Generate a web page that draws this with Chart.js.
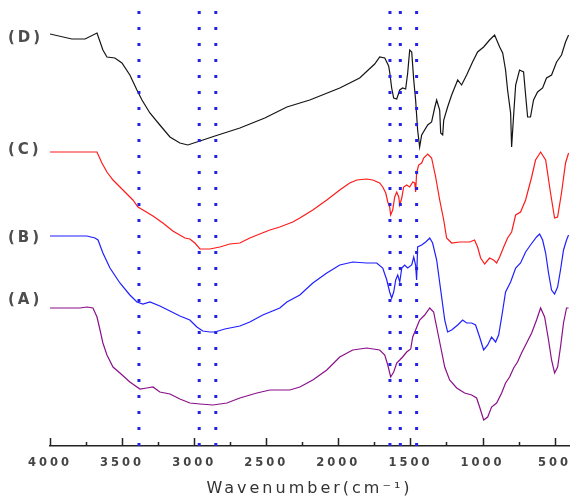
<!DOCTYPE html>
<html>
<head>
  <meta charset="UTF-8">
  <title>FTIR spectra (A)-(D)</title>
  <script src="https://cdn.jsdelivr.net/npm/chart.js"></script>
  <style>
    body { margin: 0; background: #fff; }
    #wrap { width: 577px; height: 498px; position: relative; }
  </style>
</head>
<body>
  <div id="wrap"><canvas id="ftir"></canvas></div>
  <script>
    // curve names (drawn as labels at left of each curve)
    const curveNames = ['(D)', '(C)', '(B)', '(A)'];

    // x axis tick labels (cm-1)
    const tickValues = [4000, 3500, 3000, 2500, 2000, 1500, 1000, 500];

    // wavenumbers (cm-1) and transmittance (a.u., offset per curve)
    const wnD = [4000,3848,3757,3674,3633,3605,3550,3501,3446,3397,3362,3307,3238,3168,3099,3044,2960,2856,2683,2510,2357,2198,1990,1852,1748,1713,1678,1651,1644,1630,1616,1595,1574,1554,1533,1519,1505,1491,1477,1464,1450,1436,1422,1380,1353,1332,1318,1297,1290,1276,1269,1242,1214,1172,1145,1110,1069,1034,992,951,916,881,860,840,826,805,798,784,770,743,715,701,687,667,646,618,583,556,521,486,452,424,403];
    const tD = [409,404,404,410,393,386,385,380,368,353,343,330,318,306,300,298,302,307,315,325,336,343,355,365,379,386,385,377,371,355,345,344,353,355,354,370,393,391,363,343,313,296,308,318,321,335,343,333,310,308,323,336,348,363,358,368,381,391,396,403,408,396,390,373,353,330,296,328,358,373,371,348,326,326,343,351,355,365,368,381,388,401,408];

    const wnC = [4000,3674,3640,3605,3563,3494,3425,3390,3355,3286,3217,3148,3064,3030,2995,2960,2891,2822,2753,2683,2614,2545,2475,2406,2316,2267,2177,2080,1990,1921,1872,1803,1761,1713,1692,1671,1657,1644,1637,1623,1609,1595,1581,1574,1560,1547,1526,1505,1484,1470,1464,1457,1443,1422,1408,1380,1353,1325,1297,1269,1249,1214,1159,1089,1055,1034,1013,985,951,923,902,881,853,826,798,770,736,701,659,632,597,562,528,500,479,452,424,403];
    const tC = [291,291,280,271,263,253,243,236,233,227,220,212,205,204,200,194,194,196,199,200,205,209,213,216,221,225,233,243,253,260,263,264,263,260,256,250,241,236,228,233,246,251,246,238,245,256,258,256,261,260,251,270,278,280,285,289,285,266,243,223,205,200,201,201,203,196,185,179,185,183,180,186,196,205,211,228,231,243,266,283,291,283,250,225,226,250,280,290];

    const wnB = [4000,3744,3688,3667,3633,3584,3515,3446,3397,3355,3307,3238,3168,3099,3030,2981,2940,2891,2856,2787,2683,2614,2524,2406,2357,2267,2177,2080,1990,1900,1803,1734,1692,1664,1644,1630,1616,1602,1588,1574,1560,1540,1519,1491,1477,1464,1457,1450,1422,1394,1366,1346,1318,1290,1262,1242,1214,1172,1138,1110,1075,1048,1020,992,964,937,909,888,867,840,805,770,736,701,667,625,604,583,562,542,521,500,479,459,438,417,403];
    const tB = [207,207,205,203,190,175,160,148,141,139,141,137,132,127,123,116,112,111,111,114,117,121,128,135,141,148,160,170,178,181,180,180,175,163,151,145,151,163,168,161,175,178,175,178,186,178,163,196,198,201,205,200,183,153,123,111,113,118,123,120,120,118,106,93,98,106,101,108,126,151,161,175,180,191,198,206,209,203,190,170,153,149,156,173,193,203,208];

    const wnA = [4000,3792,3744,3702,3674,3653,3633,3605,3563,3515,3446,3376,3328,3286,3238,3168,3099,3030,2960,2870,2773,2683,2565,2475,2337,2267,2177,2080,1990,1900,1803,1713,1678,1657,1637,1616,1595,1574,1554,1526,1498,1484,1464,1436,1401,1366,1339,1318,1290,1262,1228,1179,1124,1075,1041,1020,992,964,937,902,867,840,812,784,757,729,694,659,625,597,569,542,521,500,479,459,438,417,403];
    const tA = [135,135,136,135,126,113,100,88,76,70,61,54,55,56,51,49,44,40,39,38,40,45,50,53,53,56,63,73,86,93,95,93,88,78,66,71,80,83,86,91,94,106,113,123,128,135,131,116,96,76,63,55,50,48,45,36,23,26,36,40,50,60,66,75,81,90,100,110,123,135,126,103,83,70,76,96,120,135,135];

    // dotted marker lines (cm-1)
    const markerWn = [3383, 2965, 2850, 1642, 1570, 1457];

    const pts = (wn, t) => wn.map((w, i) => ({ x: w, y: t[i] }));

    const curves = [
      { name: curveNames[0], data: pts(wnD, tD), color: '#151515' },
      { name: curveNames[1], data: pts(wnC, tC), color: '#ff1a1a' },
      { name: curveNames[2], data: pts(wnB, tB), color: '#1f1fff' },
      { name: curveNames[3], data: pts(wnA, tA), color: '#8a108a' }
    ];

    const datasets = curves.map(c => ({
      label: c.name,
      data: c.data,
      borderColor: c.color,
      borderWidth: 1.2,
      pointRadius: 0,
      tension: 0,
      order: 2
    }));

    markerWn.forEach(w => {
      datasets.push({
        label: 'mark ' + w,
        data: [{ x: w, y: -3 }, { x: w, y: 443 }],
        borderColor: 'rgb(35,35,225)',
        borderWidth: 3,
        borderDash: [3, 13],
        borderCapStyle: 'butt',
        pointRadius: 0,
        order: 1
      });
    });

    // spacing of text + inward ticks + curve labels
    const decor = {
      id: 'decor',
      beforeDraw(chart) {
        chart.ctx.letterSpacing = '3px';
      },
      afterDraw(chart) {
        const ctx = chart.ctx;
        const xs = chart.scales.x, ys = chart.scales.y;
        const bottom = chart.chartArea.bottom;
        ctx.save();
        ctx.strokeStyle = '#222';
        ctx.lineWidth = 1.5;
        for (let w = 500; w <= 4000; w += 250) {
          const px = Math.round(xs.getPixelForValue(w)) + 0.5;
          const len = (w % 500 === 0) ? 8 : 4;
          ctx.beginPath();
          ctx.moveTo(px, bottom);
          ctx.lineTo(px, bottom - len);
          ctx.stroke();
        }
        ctx.font = 'bold 15px "DejaVu Sans"';
        ctx.fillStyle = '#4d4d4d';
        ctx.textAlign = 'left';
        ctx.textBaseline = 'middle';
        const dy = [4, -2, 2, -8];
        curves.forEach((c, i) => {
          const py = ys.getPixelForValue(c.data[0].y) + dy[i];
          ctx.fillText(c.name, 8, py);
        });
        ctx.restore();
      }
    };

    new Chart(document.getElementById('ftir'), {
      type: 'line',
      data: { datasets },
      options: {
        responsive: true,
        maintainAspectRatio: false,
        animation: false,
        layout: { padding: { left: 50, right: 8, top: 0, bottom: 0 } },
        plugins: {
          legend: { display: false },
          tooltip: { enabled: false }
        },
        scales: {
          x: {
            type: 'linear',
            reverse: true,
            min: 400,
            max: 4000,
            grid: { display: false },
            border: { display: true, color: '#222', width: 1.5 },
            afterFit: (scale) => { scale.height = 52; },
            afterBuildTicks: (scale) => {
              scale.ticks = tickValues.map(v => ({ value: v }));
            },
            ticks: {
              autoSkip: false,
              maxRotation: 0,
              padding: 2,
              color: '#444',
              font: { family: 'DejaVu Sans', size: 11.5, weight: 'bold' },
              callback: (v) => String(v)
            },
            title: {
              display: true,
              text: 'Wavenumber(cm⁻¹)',
              color: '#333',
              font: { family: 'DejaVu Sans', size: 16 },
              padding: { top: 0, bottom: 0 }
            }
          },
          y: {
            type: 'linear',
            display: false,
            min: -3,
            max: 443
          }
        }
      },
      plugins: [decor]
    });
  </script>
</body>
</html>
